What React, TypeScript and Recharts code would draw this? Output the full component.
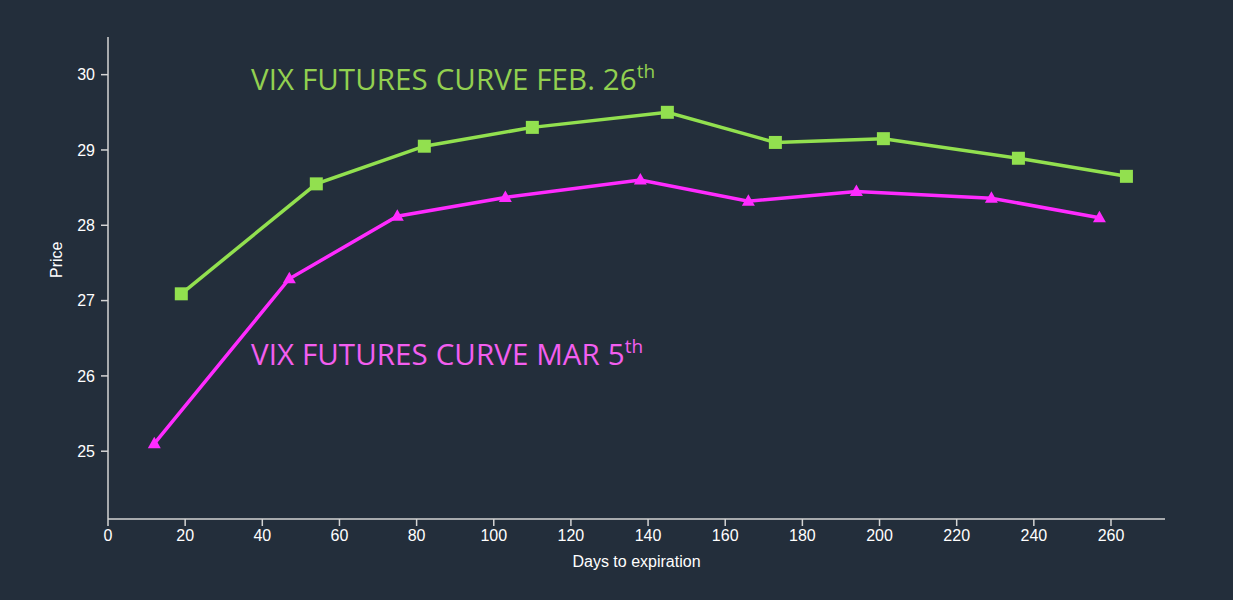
import { Line, LineChart, XAxis, YAxis } from "recharts"

// days to expiration and settlement prices for each curve
const feb26Days = [19, 54, 82, 110, 145, 173, 201, 236, 264]
const feb26Price = [27.09, 28.55, 29.05, 29.3, 29.5, 29.1, 29.15, 28.89, 28.65]

const mar5Days = [12, 47, 75, 103, 138, 166, 194, 229, 257]
const mar5Price = [25.1, 27.29, 28.12, 28.37, 28.6, 28.32, 28.45, 28.36, 28.1]

const xTicks = [0, 20, 40, 60, 80, 100, 120, 140, 160, 180, 200, 220, 240, 260]
const yTicks = [25, 26, 27, 28, 29, 30]

const feb26Data = feb26Days.map((d, i) => ({ days: d, price: feb26Price[i] }))
const mar5Data = mar5Days.map((d, i) => ({ days: d, price: mar5Price[i] }))

const BG = "#232e3b"
const AXIS = "#d4d4d4"
const GREEN = "#92e04f"
const GREEN_TEXT = "#92d050"
const PINK = "#ff2bff"
const PINK_TEXT = "#f35ef0"

const tickStyle = { fill: "#ffffff", fontSize: 16, fontFamily: "Liberation Sans, Arial, sans-serif" }

function SquareDot(props: any) {
  const { cx, cy, index } = props
  if (cx == null || cy == null) return null
  return <rect key={index} x={cx - 6.5} y={cy - 6.5} width={13} height={13} fill={GREEN} />
}

function TriangleDot(props: any) {
  const { cx, cy, index } = props
  if (cx == null || cy == null) return null
  return (
    <path key={index} d={`M${cx},${cy - 7} L${cx + 6.5},${cy + 4.5} L${cx - 6.5},${cy + 4.5} Z`} fill={PINK} />
  )
}

const titleFont = {
  position: "absolute" as const,
  left: 251,
  fontFamily: "'Open Sans', sans-serif",
  fontSize: 29.5,
  letterSpacing: 0.1,
  lineHeight: "30px",
  whiteSpace: "nowrap" as const,
}

export default function App() {
  return (
    <div style={{ position: "relative", width: 1233, height: 600, background: BG }}>
      <style>{`body{margin:0;background:${BG}}`}</style>
      <LineChart width={1233} height={600} margin={{ top: 37, right: 68, bottom: 20, left: 0 }}>
        <XAxis
          type="number"
          dataKey="days"
          domain={[0, 274]}
          ticks={xTicks}
          allowDuplicatedCategory={false}
          stroke={AXIS}
          strokeWidth={1.5}
          tickSize={7}
          tickMargin={4}
          tick={tickStyle}
          height={61}
          label={{
            value: "Days to expiration",
            position: "insideBottom",
            offset: 13,
            fill: "#ffffff",
            fontSize: 16,
            fontFamily: "Liberation Sans, Arial, sans-serif",
          }}
        />
        <YAxis
          type="number"
          domain={[24.1, 30.5]}
          ticks={yTicks}
          stroke={AXIS}
          strokeWidth={1.5}
          tickSize={7}
          tickMargin={6}
          tick={tickStyle}
          width={108}
          label={{
            value: "Price",
            angle: -90,
            position: "insideLeft",
            offset: 56,
            fill: "#ffffff",
            fontSize: 16,
            fontFamily: "Liberation Sans, Arial, sans-serif",
          }}
        />
        <Line
          data={feb26Data}
          dataKey="price"
          stroke={GREEN}
          strokeWidth={3.5}
          dot={<SquareDot />}
          activeDot={false}
          isAnimationActive={false}
        />
        <Line
          data={mar5Data}
          dataKey="price"
          stroke={PINK}
          strokeWidth={3.5}
          dot={<TriangleDot />}
          activeDot={false}
          isAnimationActive={false}
        />
      </LineChart>
      <div style={{ ...titleFont, top: 64, color: GREEN_TEXT }}>
        VIX FUTURES CURVE FEB. 26
        <span style={{ fontSize: 19, position: "relative", top: -12 }}>th</span>
      </div>
      <div style={{ ...titleFont, top: 339, color: PINK_TEXT }}>
        VIX FUTURES CURVE MAR 5
        <span style={{ fontSize: 19, position: "relative", top: -12 }}>th</span>
      </div>
    </div>
  )
}
